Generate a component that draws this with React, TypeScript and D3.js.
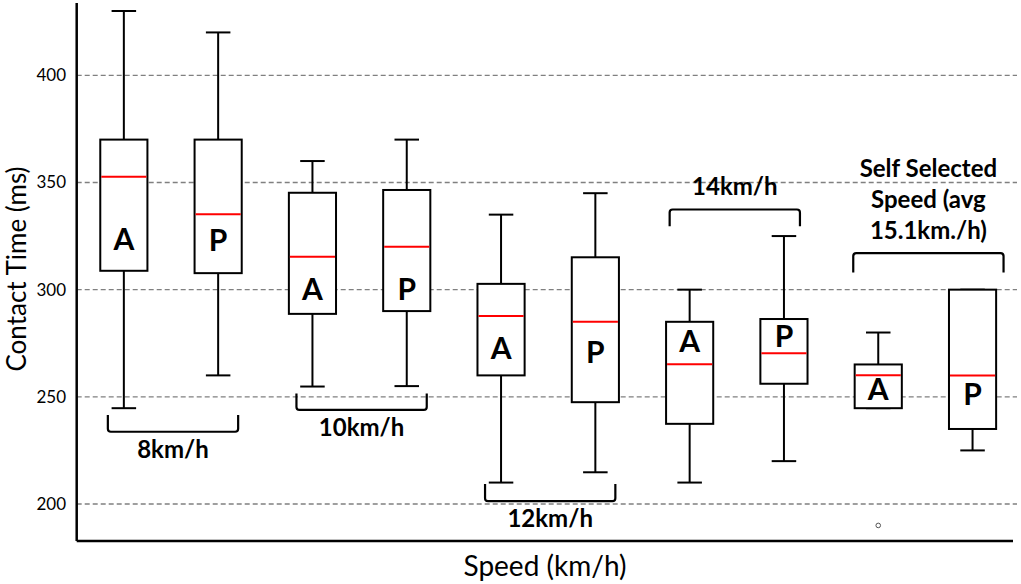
import React, { useRef, useEffect } from 'react';
import * as d3 from 'd3';

// box order: 8 A, 8 P, 10 A, 10 P, 12 A, 12 P, 14 A, 14 P, self A, self P
const boxLabels = ['A', 'P', 'A', 'P', 'A', 'P', 'A', 'P', 'A', 'P'];
const whiskerHigh = [430, 420, 360, 370, 335, 345, 300, 325, 280, 300];
const q3 = [370, 370, 345.2, 346.5, 302.7, 315.1, 285, 286.3, 265.1, 300];
const medians = [352.7, 335.2, 315.4, 320, 287.7, 285, 265.2, 270.3, 260.1, 260];
const q1 = [308.8, 307.7, 288.7, 290, 260, 247.5, 237.4, 256.1, 244.7, 235];
const whiskerLow = [244.7, 260, 254.8, 255, 210, 214.8, 210, 220, 244.7, 225];
const outliers = [{ index: 8, value: 190 }];
// baseline of the A / P letter inside each box (ms)
const letterValue = [318.5, 318.2, 295.2, 295.2, 267.5, 265.6, 270.8, 273.4, 248.5, 246.2];

const yTicks = [200, 250, 300, 350, 400];

// speed groups with their bracket
const groupLines = [['8km/h'], ['10km/h'], ['12km/h'], ['14km/h'], ['Self Selected', 'Speed (avg', '15.1km./h)']];
const groupFrom = [0, 2, 4, 6, 8];
const groupTo = [1, 3, 5, 7, 9];
const bracketValue = [233.7, 243.9, 201.3, 337.4, 317];
const bracketTip = [241.5, 251.6, 209.3, 329.6, 308];

const W = 1021;
const H = 584;

const App: React.FC = () => {
  const svgRef = useRef<SVGSVGElement>(null);

  useEffect(() => {
    if (!svgRef.current) return;
    const svg = d3.select(svgRef.current);
    svg.selectAll('*').remove();

    const left = 76.7;
    const axisRight = 1013;
    const gridRight = 1017;

    const x = d3.scaleBand<number>()
      .domain(d3.range(boxLabels.length))
      .range([left, left + 94.3 * boxLabels.length])
      .paddingInner(0)
      .paddingOuter(0);
    const y = d3.scaleLinear().domain([200, 400]).range([504, 75.3]);
    const cx = (i: number) => (x(i) as number) + x.bandwidth() / 2;
    const boxW = x.bandwidth() * 0.5;
    const capW = boxW * 0.52;

    const font = 'Lato, "Open Sans", sans-serif';

    // grid
    svg.append('g')
      .selectAll('line')
      .data(yTicks)
      .join('line')
      .attr('x1', left)
      .attr('x2', gridRight)
      .attr('y1', d => y(d))
      .attr('y2', d => y(d))
      .attr('stroke', '#808080')
      .attr('stroke-width', 1.3)
      .attr('stroke-dasharray', '5,3');

    // y labels
    svg.append('g')
      .selectAll('text')
      .data(yTicks)
      .join('text')
      .attr('x', 66)
      .attr('y', d => y(d))
      .attr('dy', '0.35em')
      .attr('text-anchor', 'end')
      .attr('font-family', font)
      .attr('font-size', 17)
      .attr('fill', '#000')
      .text(d => d);

    // axes lines
    svg.append('line')
      .attr('x1', left).attr('x2', left)
      .attr('y1', 3).attr('y2', 541)
      .attr('stroke', '#000').attr('stroke-width', 2.5);
    svg.append('line')
      .attr('x1', left).attr('x2', axisRight)
      .attr('y1', 541).attr('y2', 541)
      .attr('stroke', '#000').attr('stroke-width', 2.5);

    // axis titles
    svg.append('text')
      .attr('transform', `translate(26,269) rotate(-90)`)
      .attr('text-anchor', 'middle')
      .attr('font-family', font)
      .attr('font-size', 26)
      .text('Contact Time (ms)');
    svg.append('text')
      .attr('x', 545)
      .attr('y', 576)
      .attr('text-anchor', 'middle')
      .attr('font-family', font)
      .attr('font-size', 28)
      .text('Speed (km/h)');

    const idx = d3.range(boxLabels.length);
    const boxes = svg.append('g');

    // whiskers
    boxes.selectAll('line.whisker')
      .data(idx)
      .join('line')
      .attr('class', 'whisker')
      .attr('x1', i => cx(i)).attr('x2', i => cx(i))
      .attr('y1', i => y(whiskerHigh[i])).attr('y2', i => y(whiskerLow[i]))
      .attr('stroke', '#000').attr('stroke-width', 2);
    boxes.selectAll('line.capHi')
      .data(idx)
      .join('line')
      .attr('class', 'capHi')
      .attr('x1', i => cx(i) - capW / 2).attr('x2', i => cx(i) + capW / 2)
      .attr('y1', i => y(whiskerHigh[i])).attr('y2', i => y(whiskerHigh[i]))
      .attr('stroke', '#000').attr('stroke-width', 2);
    boxes.selectAll('line.capLo')
      .data(idx)
      .join('line')
      .attr('class', 'capLo')
      .attr('x1', i => cx(i) - capW / 2).attr('x2', i => cx(i) + capW / 2)
      .attr('y1', i => y(whiskerLow[i])).attr('y2', i => y(whiskerLow[i]))
      .attr('stroke', '#000').attr('stroke-width', 2);

    // boxes
    boxes.selectAll('rect')
      .data(idx)
      .join('rect')
      .attr('x', i => cx(i) - boxW / 2)
      .attr('width', boxW)
      .attr('y', i => y(q3[i]))
      .attr('height', i => y(q1[i]) - y(q3[i]))
      .attr('fill', '#fff')
      .attr('stroke', '#000')
      .attr('stroke-width', 2);

    // medians
    boxes.selectAll('line.median')
      .data(idx)
      .join('line')
      .attr('class', 'median')
      .attr('x1', i => cx(i) - boxW / 2 + 1).attr('x2', i => cx(i) + boxW / 2 - 1)
      .attr('y1', i => y(medians[i])).attr('y2', i => y(medians[i]))
      .attr('stroke', '#ff0000').attr('stroke-width', 2);

    // letters
    boxes.selectAll('text')
      .data(idx)
      .join('text')
      .attr('x', i => cx(i))
      .attr('y', i => y(letterValue[i]))
      .attr('text-anchor', 'middle')
      .attr('font-family', font)
      .attr('font-weight', 'bold')
      .attr('font-size', 30)
      .text(i => boxLabels[i]);

    // outliers
    svg.append('g')
      .selectAll('circle')
      .data(outliers)
      .join('circle')
      .attr('cx', d => cx(d.index))
      .attr('cy', d => y(d.value))
      .attr('r', 2.3)
      .attr('fill', 'none')
      .attr('stroke', '#555')
      .attr('stroke-width', 1);

    // brackets with speed labels
    const padL = [16, 16, 16, 20, 25];
    const padR = [20, 20, 20, 16, 31];
    groupLines.forEach((lines, g) => {
      const x1 = cx(groupFrom[g]) - padL[g];
      const x2 = cx(groupTo[g]) + padR[g];
      const yh = y(bracketValue[g]);
      const yt = y(bracketTip[g]);
      const s = yt < yh ? -1 : 1; // direction from horizontal toward tips
      const r = 3;
      const path = `M${x1},${yt} L${x1},${yh + s * r} Q${x1},${yh} ${x1 + r},${yh} L${x2 - r},${yh} Q${x2},${yh} ${x2},${yh + s * r} L${x2},${yt}`;
      svg.append('path')
        .attr('d', path)
        .attr('fill', 'none')
        .attr('stroke', '#000')
        .attr('stroke-width', 2.2);

      const mid = (x1 + x2) / 2;
      const below = s < 0;
      const lineH = 31;
      lines.forEach((t, k) => {
        const base = below
          ? yh + 26 + k * lineH
          : yh - 14 - (lines.length - 1 - k) * lineH;
        svg.append('text')
          .attr('x', mid)
          .attr('y', base)
          .attr('text-anchor', 'middle')
          .attr('font-family', font)
          .attr('font-weight', 'bold')
          .attr('font-size', 24)
          .text(t);
      });
    });
  }, []);

  return (
    <svg
      ref={svgRef}
      width={W}
      height={H}
      style={{ position: 'absolute', left: 0, top: 0, background: '#fff', display: 'block' }}
    />
  );
};

export default App;
